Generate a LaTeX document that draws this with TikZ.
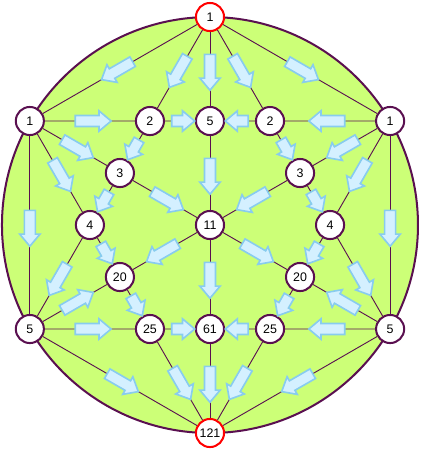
\documentclass[tikz,border=0pt]{standalone}
\usepackage{fontspec}
\setmainfont{Liberation Sans}
\usepackage{tikz}
\usetikzlibrary{shapes.arrows}
\definecolor{plum}{HTML}{5A1050}
\definecolor{leaf}{HTML}{CCFF77}
\definecolor{flowfill}{HTML}{D4F0FF}
\definecolor{flowline}{HTML}{88CCEE}

\begin{document}
\begin{tikzpicture}[
  v/.style={circle, draw=plum, fill=white, line width=1.1pt, minimum size=0.54cm, inner sep=0pt, font=\fontsize{6.8}{8}\selectfont},
  vr/.style={v, draw=red},
  e/.style={plum, line width=0.5pt},
  f/.style={single arrow, draw=flowline, fill=flowfill, line width=0.9pt, inner xsep=0pt, inner ysep=0.09cm,
    single arrow head extend=0.09cm, single arrow tip angle=80,
    minimum height=#1, sloped, allow upside down}]
\useasboundingbox (-4.038,-4.365) rectangle (4.115,4.327);
\draw[plum, fill=leaf, line width=1.1pt] (0,0) circle (4);
% outer ring
\node[vr] (T)  at (90:4)  {1};
\node[v]  (L1) at (150:4) {1};
\node[v]  (R1) at (30:4)  {1};
\node[v]  (L5) at (210:4) {5};
\node[v]  (R5) at (330:4) {5};
\node[vr] (B)  at (270:4) {121};
% inner ring
\node[v] (M5)  at (90:2)  {5};
\node[v] (L3)  at (150:2) {3};
\node[v] (R3)  at (30:2)  {3};
\node[v] (L20) at (210:2) {20};
\node[v] (R20) at (330:2) {20};
\node[v] (M61) at (270:2) {61};
% crossings
\node[v] (L2)  at (120:2.309) {2};
\node[v] (R2)  at (60:2.309)  {2};
\node[v] (L4)  at (180:2.309) {4};
\node[v] (R4)  at (0:2.309)   {4};
\node[v] (L25) at (240:2.309) {25};
\node[v] (R25) at (300:2.309) {25};
\node[v] (C)   at (0,0) {11};
% long edges
\foreach \a/\b in {T/L1,T/L2,T/M5,T/R2,T/R1,L1/L2,R1/R2,L1/L3,R1/R3,L1/L4,R1/R4,L1/L5,R1/R5,
    L3/C,R3/C,M5/C,C/L20,C/R20,C/M61,L4/L5,R4/R5,L5/L20,R5/R20,L5/L25,R5/R25,L5/B,R5/B,L25/B,R25/B,M61/B}
  \draw[e] (\a) -- node[f=0.69cm] {} (\b);
% short edges
\foreach \a/\b in {L2/M5,R2/M5,L2/L3,R2/R3,L3/L4,R3/R4,L4/L20,R4/R20,L20/L25,R20/R25,L25/M61,R25/M61}
  \draw[e] (\a) -- node[f=0.44cm] {} (\b);
\end{tikzpicture}
\end{document}
